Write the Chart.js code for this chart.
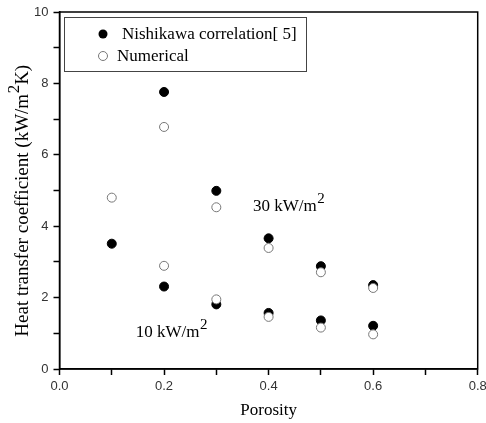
<!DOCTYPE html>
<html>
<head>
<meta charset="utf-8">
<script src="https://cdn.jsdelivr.net/npm/chart.js@4/dist/chart.umd.min.js"></script>
<style>
  body { margin: 0; background: #fff; }
  #wrap { width: 486px; height: 423px; }
</style>
</head>
<body>
<div id="wrap"><canvas id="htcChart" width="486" height="423"></canvas></div>
<script>
// Porosity values (x axis)
const porosity = [0.1, 0.2, 0.3, 0.4, 0.5, 0.6];

// 30 kW/m2 group
const nishikawa30 = [3.51, 7.76, 4.99, 3.66, 2.88, 2.35];
const numerical30 = [4.80, 6.78, 4.53, 3.39, 2.71, 2.27];

// 10 kW/m2 group (no point at 0.1)
const nishikawa10 = [null, 2.31, 1.81, 1.57, 1.36, 1.21];
const numerical10 = [null, 2.89, 1.95, 1.46, 1.16, 0.97];

const legendLabels = ["Nishikawa correlation[ 5]", "Numerical"];
const xTicks = [0.0, 0.2, 0.4, 0.6, 0.8];
const yTicks = [0, 2, 4, 6, 8, 10];

const serif = "'Liberation Serif', 'Times New Roman', serif";

const toPoints = (vals) =>
    porosity.map((p, i) => ({ x: p, y: vals[i] })).filter((pt) => pt.y !== null);

const filledStyle = {
    backgroundColor: "#000",
    borderColor: "#000",
    borderWidth: 1,
    pointRadius: 4.5,
    order: 1,
};
const openStyle = {
    backgroundColor: "#fff",
    borderColor: "#777",
    borderWidth: 1,
    pointRadius: 4.5,
    order: 0,
};

// draws text pieces, the ones flagged sup are raised and a bit smaller
function drawPieces(ctx, pieces, x, y, size) {
    let cx = x;
    pieces.forEach(([txt, sup]) => {
        ctx.font = (sup ? size - 2 : size) + "px " + serif;
        ctx.fillText(txt, cx, sup ? y - size * 0.45 : y);
        cx += ctx.measureText(txt).width + (sup ? 0 : 0.5);
    });
    return cx - x;
}
function piecesWidth(ctx, pieces, size) {
    return pieces.reduce((w, [txt, sup]) => {
        ctx.font = (sup ? size - 2 : size) + "px " + serif;
        return w + ctx.measureText(txt).width + (sup ? 0 : 0.5);
    }, 0);
}

// frame, legend box, y title and flux labels
const extras = {
    id: "extras",
    afterDraw(chart) {
        const { ctx, chartArea: a, scales } = chart;
        ctx.save();
        ctx.strokeStyle = "#000";
        ctx.lineWidth = 1.5;
        ctx.strokeRect(a.left, a.top, a.right - a.left, a.bottom - a.top);

        // legend
        ctx.lineWidth = 1;
        ctx.strokeStyle = "#444";
        ctx.strokeRect(64.5, 17.5, 242, 54);
        ctx.font = "17px " + serif;
        ctx.textBaseline = "alphabetic";
        ctx.fillStyle = "#000";
        ctx.beginPath();
        ctx.arc(103, 34, 4.5, 0, Math.PI * 2);
        ctx.fill();
        ctx.fillText(legendLabels[0], 122, 39);
        ctx.beginPath();
        ctx.arc(103, 56, 4.5, 0, Math.PI * 2);
        ctx.fillStyle = "#fff";
        ctx.fill();
        ctx.strokeStyle = "#777";
        ctx.stroke();
        ctx.fillStyle = "#000";
        ctx.fillText(legendLabels[1], 117, 61);

        // y axis title
        const yTitle = [["Heat transfer coefficient (kW/m"], ["2", true], ["K)"]];
        const tw = piecesWidth(ctx, yTitle, 19);
        ctx.save();
        ctx.translate(28, (a.top + a.bottom) / 2 + 10);
        ctx.rotate(-Math.PI / 2);
        drawPieces(ctx, yTitle, -tw / 2, 0, 19);
        ctx.restore();

        // flux labels
        const label = (txt, xv, yv) => {
            const x = scales.x.getPixelForValue(xv);
            const y = scales.y.getPixelForValue(yv);
            drawPieces(ctx, [[txt], ["2", true]], x, y, 17);
        };
        label("30 kW/m", 0.37, 4.43);
        label("10 kW/m", 0.146, 0.9);
        ctx.restore();
    },
};

const config = {
    type: "scatter",
    data: {
        datasets: [
            { label: "Nishikawa 30", data: toPoints(nishikawa30), ...filledStyle },
            { label: "Nishikawa 10", data: toPoints(nishikawa10), ...filledStyle },
            { label: "Numerical 30", data: toPoints(numerical30), ...openStyle },
            { label: "Numerical 10", data: toPoints(numerical10), ...openStyle },
        ],
    },
    options: {
        responsive: false,
        animation: false,
        layout: { padding: { top: 12, right: 8.3, left: 0, bottom: 0 } },
        plugins: { legend: { display: false }, tooltip: { enabled: false } },
        scales: {
            x: {
                type: "linear",
                min: 0,
                max: 0.8,
                afterFit: (s) => {
                    s.height = 54;
                    s.paddingLeft = 0;
                    s.paddingRight = 0;
                },
                ticks: {
                    stepSize: 0.1,
                    color: "#333",
                    font: { family: "'Liberation Sans', Arial", size: 13 },
                    padding: 4,
                    maxRotation: 0,
                    callback: (v) => {
                        const t = xTicks.find((k) => Math.abs(k - v) < 1e-6);
                        return t === undefined ? "" : t.toFixed(1);
                    },
                },
                grid: { drawOnChartArea: false, tickLength: 6, tickColor: "#000", tickWidth: 1.5 },
                border: { color: "#000", width: 1.5 },
                title: {
                    display: true,
                    text: "Porosity",
                    color: "#000",
                    font: { family: serif, size: 17 },
                    padding: { top: 0, bottom: 2 },
                },
            },
            y: {
                min: 0,
                max: 10,
                afterFit: (s) => {
                    s.width = 59.5;
                    s.paddingTop = 0;
                    s.paddingBottom = 0;
                },
                ticks: {
                    stepSize: 1,
                    color: "#333",
                    font: { family: "'Liberation Sans', Arial", size: 13 },
                    padding: 5,
                    callback: (v) => (yTicks.includes(v) ? String(v) : ""),
                },
                grid: { drawOnChartArea: false, tickLength: 6, tickColor: "#000", tickWidth: 1.5 },
                border: { color: "#000", width: 1.5 },
            },
        },
    },
    plugins: [extras],
};

const ctx = document.getElementById("htcChart").getContext("2d");
const htcChart = new Chart(ctx, config);
</script>
</body>
</html>
